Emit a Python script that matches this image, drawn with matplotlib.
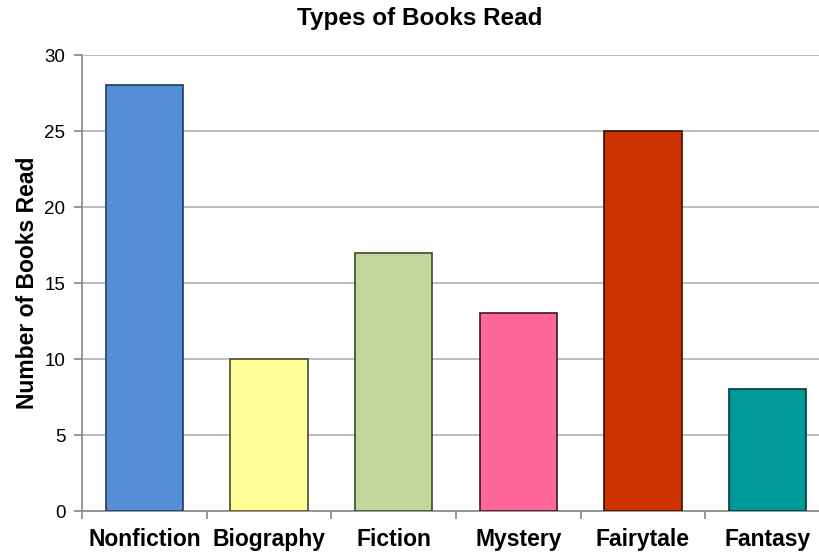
import matplotlib
matplotlib.use("Agg")
import matplotlib.pyplot as plt
import numpy as np

categories = ["Nonfiction", "Biography", "Fiction", "Mystery", "Fairytale", "Fantasy"]
books_read = [28, 10, 17, 13, 25, 8]
bar_colors = ["#558ED5", "#FFFF99", "#C3D69B", "#FF6699", "#CC3300", "#009999"]
edge_colors = ["#1F3864", "#4A4A2A", "#3A4A2A", "#3A1A2A", "#3A1000", "#003A3A"]
y_ticks = [0, 5, 10, 15, 20, 25, 30]

plt.rcParams["font.family"] = ["Liberation Sans", "DejaVu Sans"]

fig = plt.figure(figsize=(8.2, 5.53), dpi=100)
ax = fig.add_axes([82 / 820, 1 - 511 / 553, (830 - 82) / 820, (511 - 55) / 553])

x = np.arange(len(categories))
ax.bar(x, books_read, width=0.62, color=bar_colors, edgecolor=edge_colors,
       linewidth=1.2, zorder=3)

ax.set_xlim(-0.5, len(categories) - 0.5)
ax.set_ylim(0, 30)
ax.set_yticks(y_ticks)
ax.set_yticklabels([str(v) for v in y_ticks], fontsize=13.5)
ax.yaxis.grid(True, color="#B3B3B3", linewidth=1.2, zorder=0)
ax.set_axisbelow(True)

# category labels centred under bars, tick marks on category boundaries
ax.set_xticks(x)
ax.set_xticklabels(categories, fontsize=16.5, fontweight="bold")
ax.tick_params(axis="x", length=0, pad=12)
ax.set_xticks(np.arange(-0.5, len(categories), 1.0), minor=True)
ax.tick_params(axis="x", which="minor", length=6, color="#888888", width=1.2)
ax.tick_params(axis="y", length=6, color="#888888", width=1.2, pad=6)

for side in ["top", "right"]:
    ax.spines[side].set_visible(False)
for side in ["left", "bottom"]:
    ax.spines[side].set_color("#888888")
    ax.spines[side].set_linewidth(1.2)

ax.set_ylabel("Number of Books Read", fontsize=16.5, fontweight="bold", labelpad=4)
fig.text(420 / 820, 1 - 18 / 553, "Types of Books Read", fontsize=17.5,
         fontweight="bold", ha="center", va="center")

fig.savefig("out.png", dpi=100)
